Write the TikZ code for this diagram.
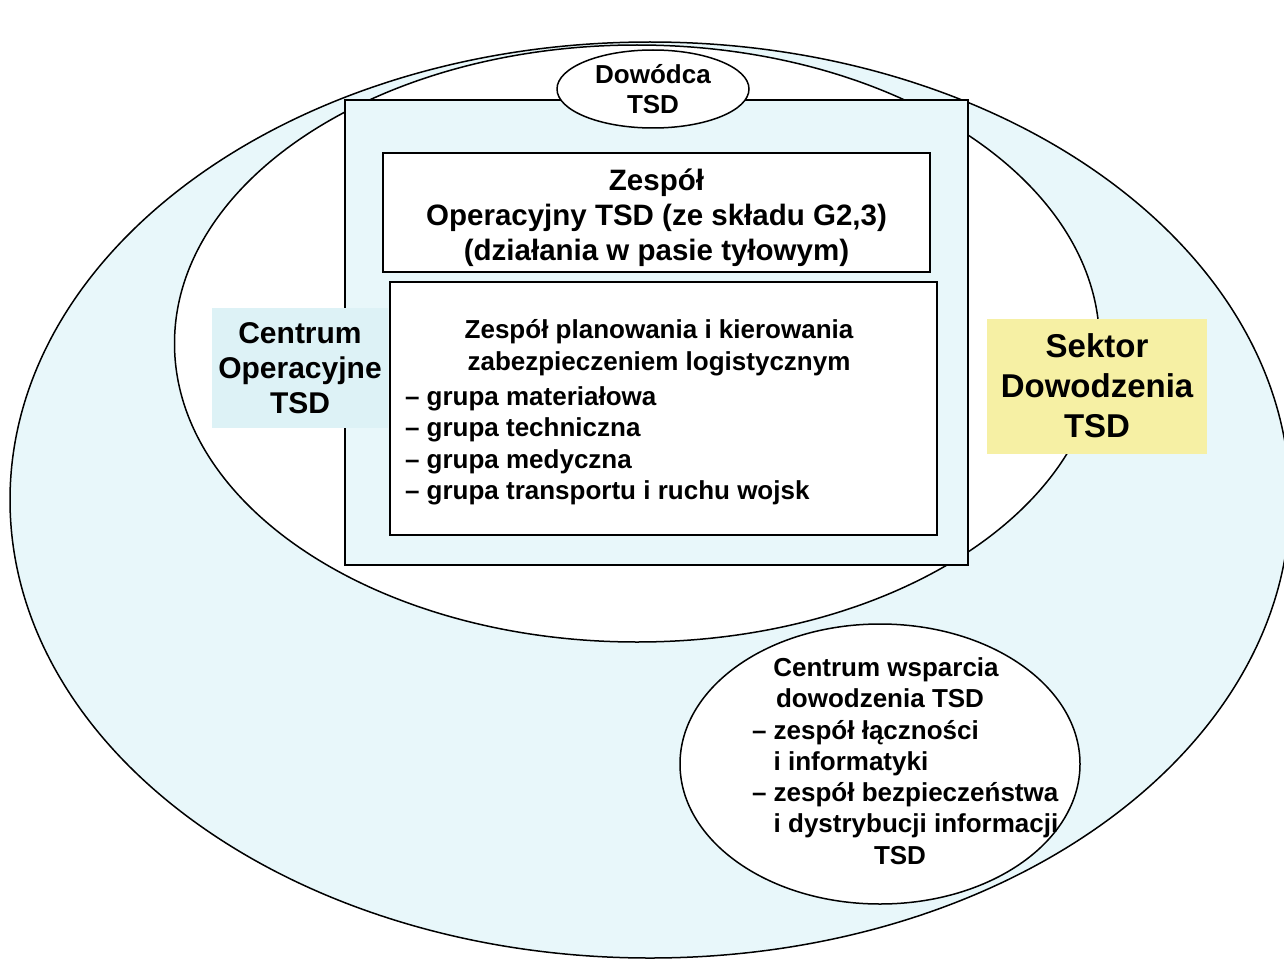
\documentclass[tikz,border=0pt]{standalone}
\usepackage{fontspec}
\setmainfont{Liberation Sans}
\usetikzlibrary{shapes.geometric}
\definecolor{paleblue}{HTML}{E8F7FA}
\definecolor{labelblue}{HTML}{DDF2F6}
\definecolor{paleyellow}{HTML}{F6F0A4}
\newcommand{\fs}[2]{\fontsize{#1}{#2}\selectfont\bfseries}
\begin{document}
\begin{tikzpicture}[x=1pt,y=-1pt,line width=1.5pt,
  every node/.style={inner sep=0pt,outer sep=0pt},
  oval/.style={ellipse,draw,fill=white},
  panel/.style={rectangle,draw,fill=white},
  tag/.style={rectangle,align=center}]
% page
\fill[white] (0,0) rectangle (1284,963);
\useasboundingbox (0,0) rectangle (1284,963);

% whole command sector and the operations centre inside it
\node[ellipse,draw,fill=paleblue,minimum width=1280pt,minimum height=916pt] (sector) at (650,500) {};
\node[oval,minimum width=925pt,minimum height=597pt] (ops) at (637,343.5) {};

% frame holding the two teams
\node[rectangle,draw,fill=paleblue,minimum width=623pt,minimum height=465pt] (frame) at (656.5,332.5) {};
\node[panel,minimum width=547pt,minimum height=119pt] (opteam) at (656.5,212.5) {};
\node[align=center,font=\fs{29.5}{35}] (opteamtext) at (656.5,218)
  {Zespół\\Operacyjny TSD (ze składu G2,3)\\(działania w pasie tyłowym)};
\node[panel,minimum width=547pt,minimum height=253pt] (plan) at (663.5,408.5) {};
\node[align=center,font=\fs{26}{32}] (planhead) at (659,348)
  {Zespół planowania i kierowania\\zabezpieczeniem logistycznym};
\node[align=left,anchor=west,font=\fs{26}{31.5}] (planlist) at (405,446)
  {– grupa materiałowa\\– grupa techniczna\\– grupa medyczna\\– grupa transportu i ruchu wojsk};

% commander
\node[oval,minimum width=192pt,minimum height=78pt,align=center,font=\fs{26}{30}] (cmdr) at (653,89) {Dowódca\\TSD};

% labels
\node[tag,fill=labelblue,minimum width=176pt,minimum height=120pt,font=\fs{30}{35}] (opslabel) at (300,368)
  {Centrum\\Operacyjne\\TSD};
\node[tag,fill=paleyellow,minimum width=220pt,minimum height=135pt,font=\fs{33}{40}] (sectorlabel) at (1097,386)
  {Sektor\\Dowodzenia\\TSD};

% support centre
\node[oval,minimum width=400pt,minimum height=280pt] (support) at (880,764) {};
\node[align=left,font=\fs{26}{31.3}] (supporttext) at (907,761)
  {\makebox[310pt][c]{Centrum wsparcia\hspace*{42pt}}\\
   \makebox[310pt][c]{dowodzenia TSD\hspace*{54pt}}\\
   – zespół łączności\\
   \hphantom{– }i informatyki\\
   – zespół bezpieczeństwa\\
   \hphantom{– }i dystrybucji informacji\\
   \makebox[310pt][c]{TSD\hspace*{14pt}}};
\end{tikzpicture}
\end{document}
